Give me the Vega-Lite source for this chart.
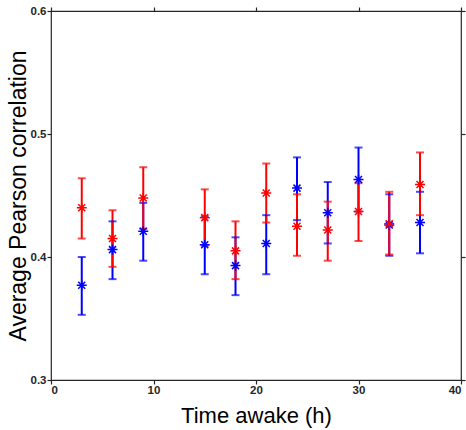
{
  "$schema": "https://vega.github.io/schema/vega-lite/v6.json",
  "autosize": "none",
  "width": 410,
  "height": 369,
  "padding": {"left": 51, "top": 11, "right": 5, "bottom": 50},
  "background": "white",
  "config": {
    "view": {"stroke": "#262626", "strokeWidth": 1.2},
    "axis": {
      "grid": false,
      "domain": false,
      "labelColor": "#262626",
      "labelFont": "Liberation Sans",
      "labelFontWeight": "bold",
      "labelFontSize": 11.5,
      "titleFont": "Liberation Sans",
      "titleFontWeight": "normal",
      "titleColor": "#000000"
    }
  },
  "data": {
    "values": [
      {"t": 3, "g": "blue", "m": 0.377, "lo": 0.353, "hi": 0.400},
      {"t": 6, "g": "blue", "m": 0.406, "lo": 0.382, "hi": 0.429},
      {"t": 9, "g": "blue", "m": 0.421, "lo": 0.397, "hi": 0.444},
      {"t": 15, "g": "blue", "m": 0.410, "lo": 0.386, "hi": 0.433},
      {"t": 18, "g": "blue", "m": 0.393, "lo": 0.369, "hi": 0.416},
      {"t": 21, "g": "blue", "m": 0.411, "lo": 0.386, "hi": 0.434},
      {"t": 24, "g": "blue", "m": 0.456, "lo": 0.430, "hi": 0.481},
      {"t": 27, "g": "blue", "m": 0.436, "lo": 0.411, "hi": 0.461},
      {"t": 30, "g": "blue", "m": 0.463, "lo": 0.437, "hi": 0.489},
      {"t": 33, "g": "blue", "m": 0.426, "lo": 0.401, "hi": 0.451},
      {"t": 36, "g": "blue", "m": 0.428, "lo": 0.403, "hi": 0.453},
      {"t": 3, "g": "red", "m": 0.440, "lo": 0.415, "hi": 0.464},
      {"t": 6, "g": "red", "m": 0.415, "lo": 0.392, "hi": 0.438},
      {"t": 9, "g": "red", "m": 0.448, "lo": 0.423, "hi": 0.473},
      {"t": 15, "g": "red", "m": 0.432, "lo": 0.409, "hi": 0.455},
      {"t": 18, "g": "red", "m": 0.405, "lo": 0.382, "hi": 0.429},
      {"t": 21, "g": "red", "m": 0.452, "lo": 0.428, "hi": 0.476},
      {"t": 24, "g": "red", "m": 0.425, "lo": 0.401, "hi": 0.451},
      {"t": 27, "g": "red", "m": 0.422, "lo": 0.397, "hi": 0.445},
      {"t": 30, "g": "red", "m": 0.437, "lo": 0.413, "hi": 0.460},
      {"t": 33, "g": "red", "m": 0.427, "lo": 0.402, "hi": 0.453},
      {"t": 36, "g": "red", "m": 0.459, "lo": 0.434, "hi": 0.485}
    ]
  },
  "resolve": {"axis": {"x": "independent", "y": "independent"}},
  "layer": [
    {
      "mark": {"type": "rule", "strokeWidth": 2},
      "encoding": {
        "x": {"field": "t", "type": "quantitative", "scale": {"domain": [0, 40], "nice": false},
              "axis": {"orient": "bottom", "values": [0, 10, 20, 30, 40], "ticks": true, "tickSize": 4, "tickWidth": 1.2, "tickColor": "#262626",
                       "title": "Time awake (h)", "titleFontSize": 22, "labelPadding": 0, "titlePadding": 10}},
        "y": {"field": "lo", "type": "quantitative", "scale": {"domain": [0.3, 0.6], "nice": false, "zero": false},
              "axis": {"orient": "left", "values": [0.3, 0.4, 0.5, 0.6], "format": ".1f", "ticks": true, "tickSize": 4, "tickWidth": 1.2, "tickColor": "#262626",
                       "title": "Average Pearson correlation", "titleFontSize": 23, "labelPadding": 1, "titlePadding": 0}},
        "y2": {"field": "hi"},
        "color": {"field": "g", "type": "nominal", "scale": {"domain": ["blue", "red"], "range": ["#0000ff", "#ff0000"]}, "legend": null},
        "order": {"field": "g"}
      }
    },
    {
      "transform": [{"fold": ["lo", "hi"], "as": ["k", "v"]}],
      "mark": {"type": "tick", "orient": "horizontal", "size": 8, "thickness": 2},
      "encoding": {
        "x": {"field": "t", "type": "quantitative",
              "axis": {"orient": "top", "values": [0, 10, 20, 30, 40], "ticks": true, "tickSize": 4, "tickWidth": 1.2, "tickColor": "#262626", "labels": false, "title": null}},
        "y": {"field": "v", "type": "quantitative",
              "axis": {"orient": "right", "values": [0.3, 0.4, 0.5, 0.6], "ticks": true, "tickSize": 4, "tickWidth": 1.2, "tickColor": "#262626", "labels": false, "title": null}},
        "color": {"field": "g", "type": "nominal", "legend": null}
      }
    },
    {
      "mark": {"type": "point", "shape": "M-1,0L1,0M0,-1L0,1M-0.7,-0.7L0.7,0.7M-0.7,0.7L0.7,-0.7", "filled": false, "size": 100, "strokeWidth": 1.5, "opacity": 1},
      "encoding": {
        "x": {"field": "t", "type": "quantitative", "axis": null},
        "y": {"field": "m", "type": "quantitative", "axis": null},
        "color": {"field": "g", "type": "nominal", "legend": null}
      }
    }
  ]
}
